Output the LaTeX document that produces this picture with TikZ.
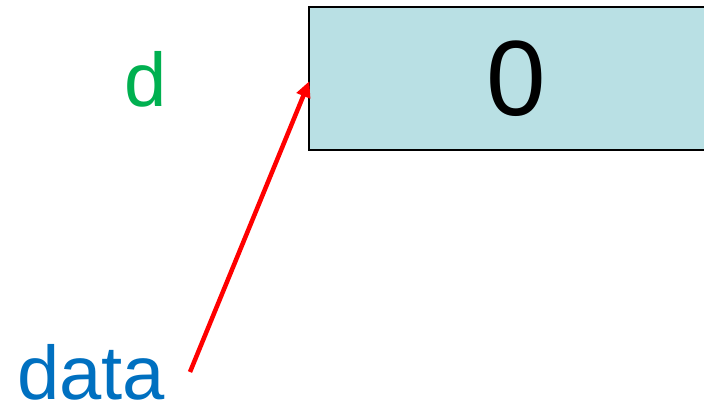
\documentclass[tikz,border=0pt]{standalone}
\usepackage{fontspec}
\setmainfont{Liberation Sans}
\usetikzlibrary{arrows.meta}
\definecolor{boxfill}{RGB}{185,224,228}
\definecolor{lblgreen}{RGB}{0,176,80}
\definecolor{lblblue}{RGB}{0,112,192}
\tikzset{
  cell/.style={draw=black, line width=2.2pt, fill=boxfill, minimum width=414pt, minimum height=143pt, inner sep=0pt, font=\fontsize{107}{110}\selectfont},
  biglabel/.style={inner sep=0pt, text depth=0pt, font=\fontsize{76}{80}\selectfont},
  ptr/.style={draw=red, line width=4.5pt, -{Triangle[length=16pt,width=14pt]}, shorten >=-1pt}
}
\begin{document}
\begin{tikzpicture}[x=1pt,y=-1pt]
\useasboundingbox (0,0) rectangle (704,406);
\clip (0,0) rectangle (704,406);
\node[cell] (box) at (516,78.5) {0};
\node[biglabel, text=lblgreen, anchor=base] (d) at (146,107) {d};
\node[biglabel, text=lblblue, anchor=base west] (data) at (17,399) {data};
\coordinate (s) at (190,372);
\coordinate (t) at (309,82);
\draw[ptr] (s) -- (t);
\end{tikzpicture}
\end{document}
